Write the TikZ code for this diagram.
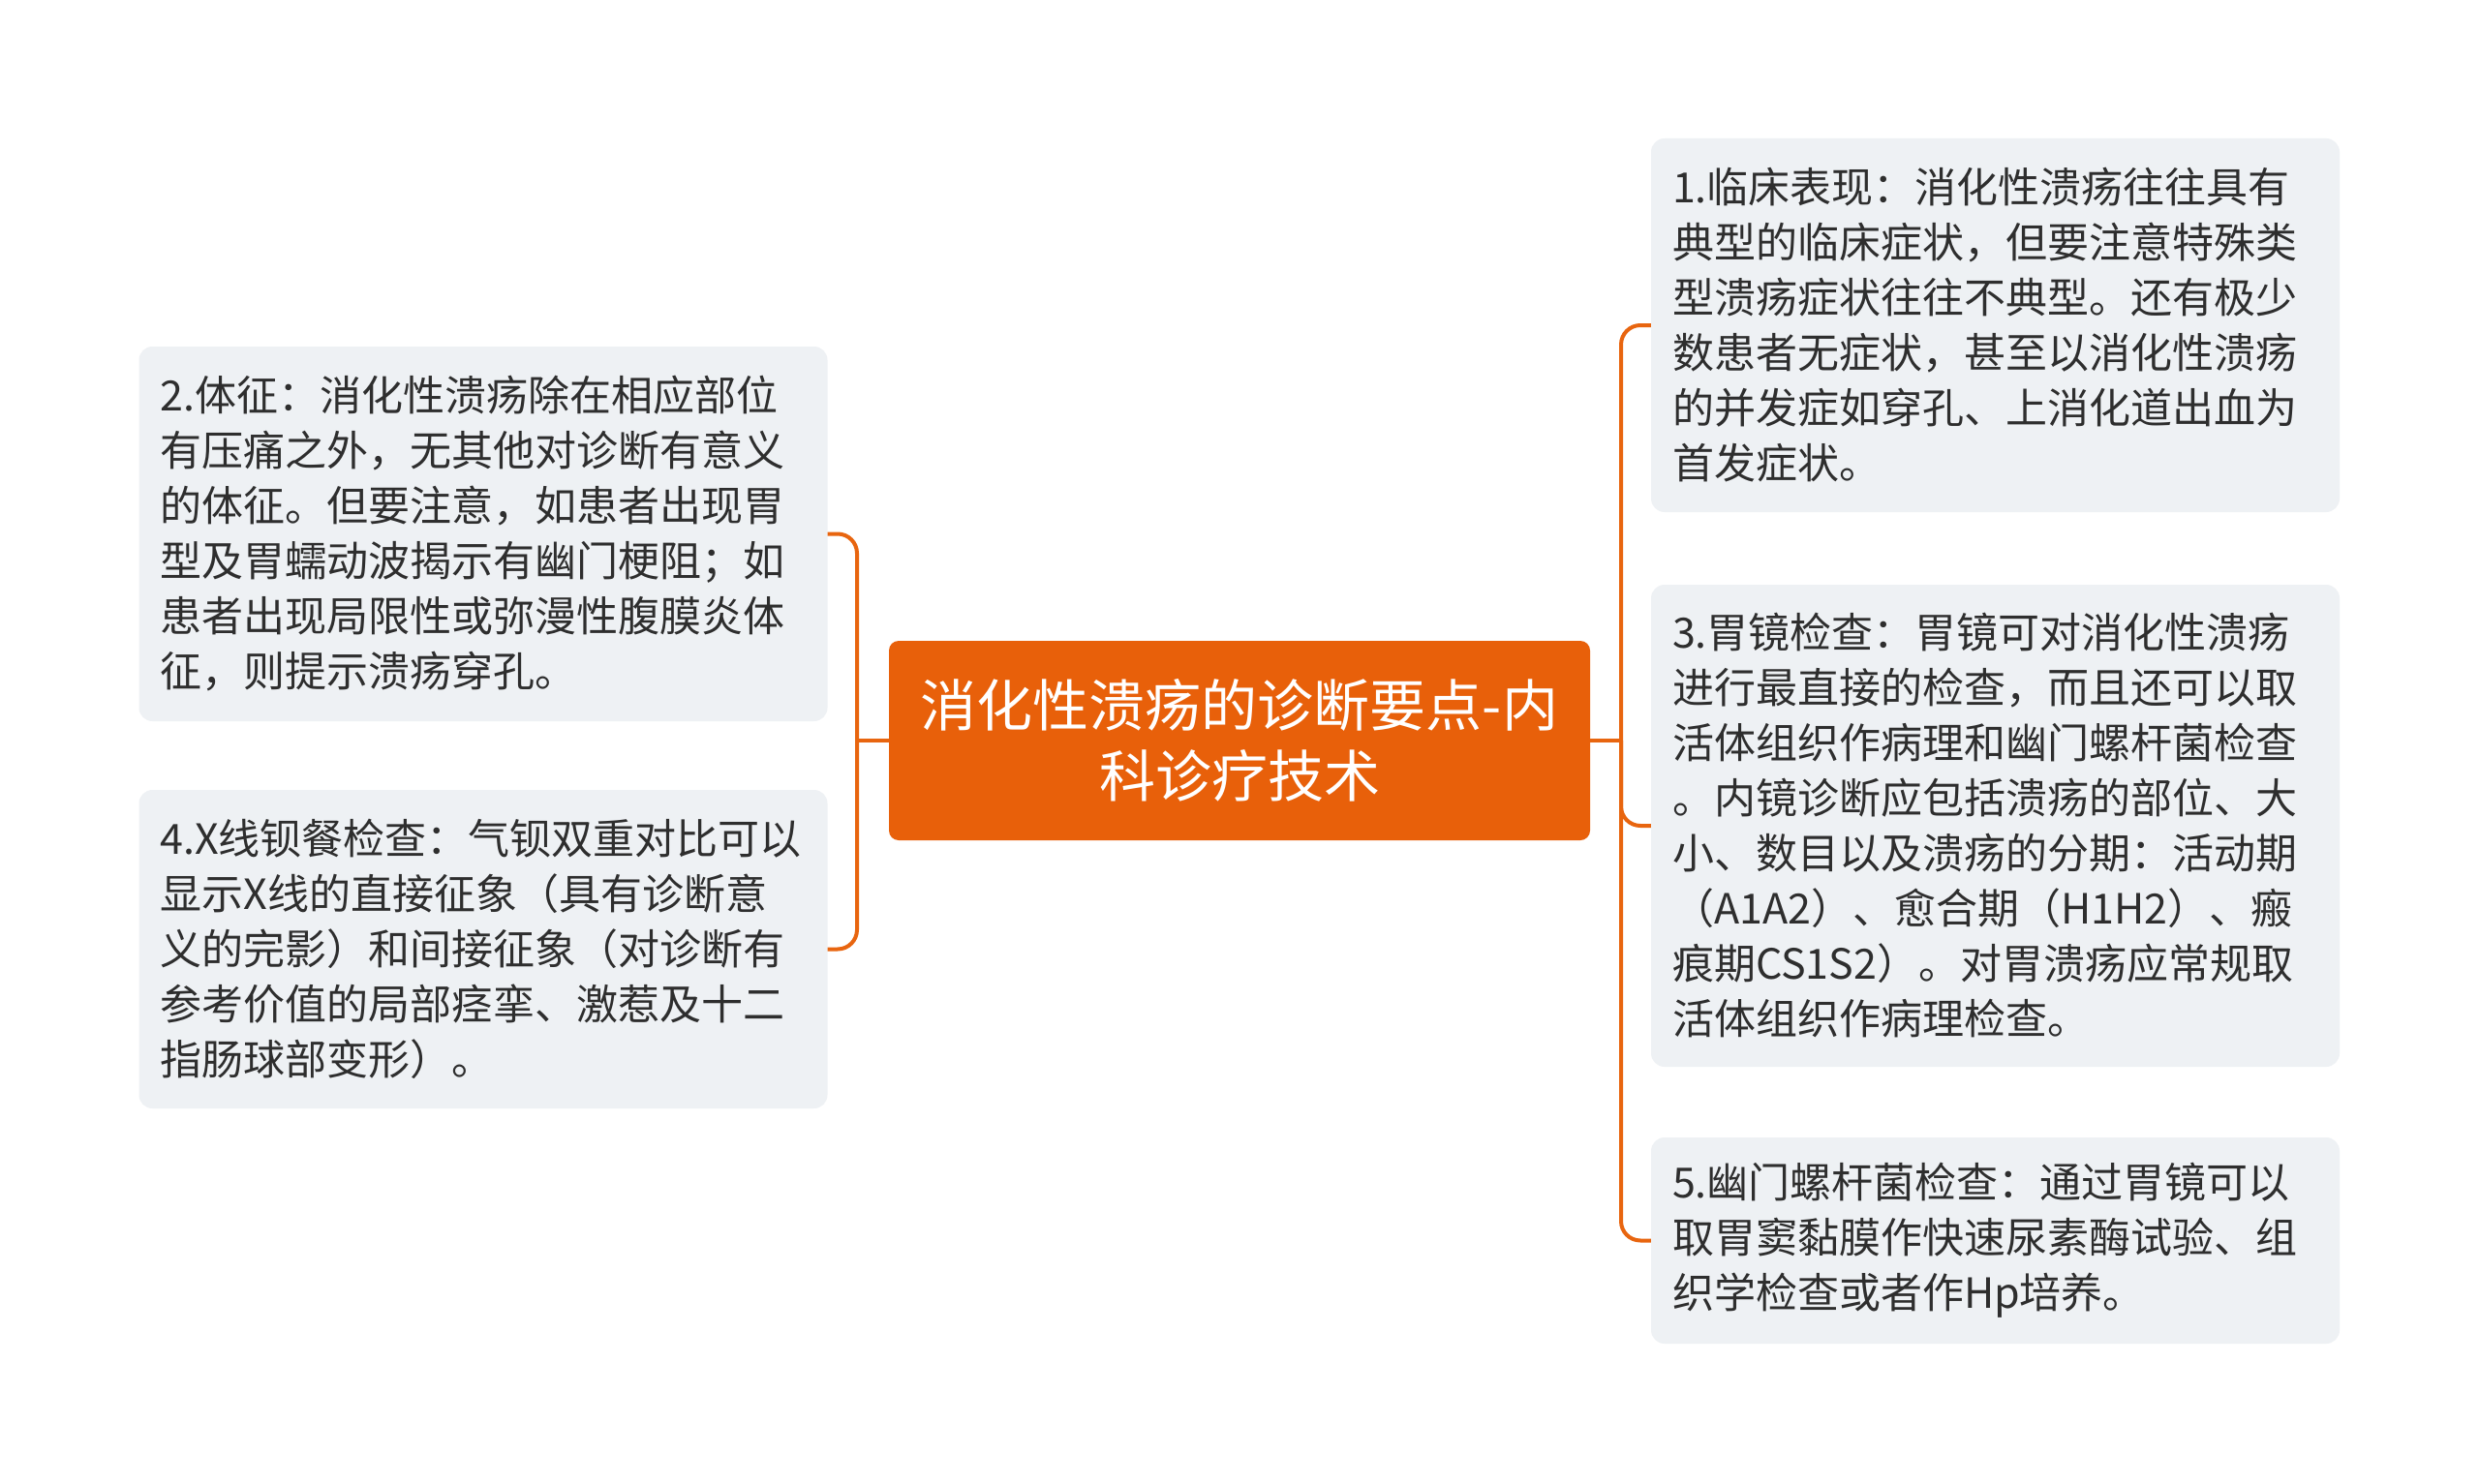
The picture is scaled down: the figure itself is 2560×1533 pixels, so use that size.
\documentclass[tikz,border=0pt]{standalone}
\usepackage{fontspec}
\setmainfont{Noto Sans CJK SC}
\newfontfamily\cjk{Noto Sans CJK SC}
\definecolor{mainorange}{HTML}{E8600A}
\definecolor{connorange}{HTML}{E8650F}
\definecolor{leafgray}{HTML}{EEF1F4}
\definecolor{leaftext}{HTML}{2E2E2E}
\tikzset{
  centerbox/.style={draw=none, fill=mainorange, rounded corners=10pt, text=white,
    font=\cjk\fontsize{58}{73.5}\selectfont, align=center, inner sep=0pt},
  leafbox/.style={draw=none, fill=leafgray, rounded corners=14pt, text=leaftext,
    font=\cjk\fontsize{43}{57}\selectfont, align=left, inner xsep=22pt, inner ysep=0pt,
    text width=690pt},
  conn/.style={draw=connorange, line width=4pt, rounded corners=20pt}
}
\begin{document}
\begin{tikzpicture}[x=1pt,y=-1pt]
\useasboundingbox (0,0) rectangle (2560,1533);
\fill[white] (0,0) rectangle (2560,1533);

\node[centerbox, minimum width=724pt, minimum height=206pt] (c) at (1280,765)
  {消化性溃疡的诊断要点-内\\科诊疗技术};

\node[leafbox, minimum width=711pt, minimum height=387pt, text width=667pt] (l1) at (499,551.5)
  {2.体征：消化性溃疡除在相应部位\\有压痛之外，无其他对诊断有意义\\的体征。但要注意，如患者出现胃\\型及胃蠕动波揭示有幽门梗阻；如\\患者出现局限性或弥漫性腹膜炎体\\征，则提示溃疡穿孔。};

\node[leafbox, minimum width=711pt, minimum height=329pt, text width=667pt] (l2) at (499,980.5)
  {4.X线钡餐检查：气钡双重对比可以\\显示X线的直接征象（具有诊断意\\义的完影）和间接征象（对诊断有\\参考价值的局部痉挛、激惹及十二\\指肠球部变形）。};

\node[leafbox, minimum width=711pt, minimum height=386pt, text width=667pt] (r1) at (2060.5,336)
  {1.临床表现：消化性溃疡往往具有\\典型的临床症状，但要注意特殊类\\型溃疡症状往往不典型。还有极少\\数患者无症状，甚至以消化性溃疡\\的并发症如穿孔、上消化道出血为\\首发症状。};

\node[leafbox, minimum width=711pt, minimum height=498pt, text width=667pt] (r2) at (2060.5,853)
  {3.胃镜检查：胃镜可对消化性溃疡\\进行最直接的检查，而且还可以取\\活体组织作病理和幽门螺杆菌检查\\。内镜诊断应包括溃疡的部位、大\\小、数目以及溃疡的分期：活动期\\（A1A2）、愈合期（H1H2）、瘢\\痕期CS1S2）。对胃溃疡应常规取\\活体组织作病理检查。};

\node[leafbox, minimum width=711pt, minimum height=213pt, text width=667pt] (r3) at (2060.5,1281.5)
  {5.幽门螺杆菌检查：通过胃镜可以\\取胃窦黏膜作快速尿素酶试验、组\\织学检查或者作Hp培养。};

\coordinate (jl) at (885,765);
\coordinate (jr) at (1674,765);

\draw[conn, rounded corners=0pt] (c.west) -- (jl);
\draw[conn] (jl) |- (l1.east);
\draw[conn] (jl) |- (l2.east);

\draw[conn, rounded corners=0pt] (c.east) -- (jr);
\draw[conn] (jr) |- (r1.west);
\draw[conn] (jr) |- (r2.west);
\draw[conn] (jr) |- (r3.west);
\end{tikzpicture}
\end{document}
